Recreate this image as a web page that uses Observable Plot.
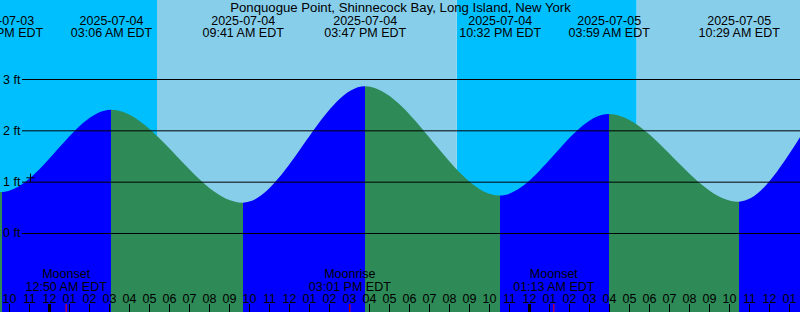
<!DOCTYPE html>
<html>
<head>
<meta charset="utf-8">
<script src="https://cdn.jsdelivr.net/npm/d3@7"></script>
<script src="https://cdn.jsdelivr.net/npm/@observablehq/plot@0.6"></script>
<style>
html, body { margin: 0; padding: 0; background: #fff; }
svg { display: block; }
</style>
</head>
<body>
<div id="chart"></div>
<script>
// ---- data (times are local EDT, stored as naive UTC) ----
const title = "Ponquogue Point, Shinnecock Bay, Long Island, New York";
const tideTimes = [
  "2025-07-03T08:55", "2025-07-03T15:05", "2025-07-03T21:38",
  "2025-07-04T03:06", "2025-07-04T09:41", "2025-07-04T15:47",
  "2025-07-04T22:32", "2025-07-05T03:59", "2025-07-05T10:29",
  "2025-07-05T16:30", "2025-07-05T23:10"
];
const tideHeights = [0.62, 2.80, 0.80, 2.40, 0.59, 2.86, 0.73, 2.32, 0.61, 3.05, 0.70];
const sunTimes = ["2025-07-04T05:24", "2025-07-04T20:23", "2025-07-05T05:23"];
const sunKinds = ["sunrise", "sunset", "sunrise"];
const moonTimes = ["2025-07-04T00:50", "2025-07-04T15:01", "2025-07-05T01:13"];
const moonKinds = ["Moonset", "Moonrise", "Moonset"];
const yTicks = [0, 1, 2, 3];
const nowTime = "2025-07-03T23:03";
const nowHeight = 1.085;
const xStart = "2025-07-03T21:33";
const xEnd = "2025-07-05T13:33";

// ---- colours ----
const NIGHT = "#00BFFF", DAY = "#87CEEB", RISING = "#0000FF", FALLING = "#2E8B57";

const P = s => new Date(s + ":00Z");
const x0 = P(xStart), x1 = P(xEnd);
const yMin = -1.539, yMax = 4.539;

const tide = tideTimes.map((t, i) => ({time: P(t), height: tideHeights[i]}));
const visibleTide = tide.filter(d => d.time >= new Date(+x0 - 3600e3) && d.time <= x1);

const bounds = [new Date(+x0 - 3600e3), ...sunTimes.map(P), new Date(+x1 + 3600e3)];
const bands = [];
for (let i = 0; i < bounds.length - 1; i++) {
  bands.push({start: bounds[i], end: bounds[i + 1], night: i === 0 ? sunKinds[0] === "sunrise" : sunKinds[i - 1] === "sunset"});
}
const moon = moonTimes.map((t, i) => ({time: P(t), kind: moonKinds[i]}));
const hours = d3.utcHour.range(d3.utcHour.ceil(x0), x1);

const fmtDate = d3.utcFormat("%Y-%m-%d");
const fmtTime = d => d3.utcFormat("%I:%M %p")(d) + " EDT";
const fmtHour = d3.utcFormat("%I");
const FS = 12.5;
const FONT = "'Liberation Sans', Arial, Helvetica, sans-serif";

const plot = Plot.plot({
  width: 800,
  height: 312,
  margin: 0,
  x: {type: "utc", domain: [x0, x1], axis: null},
  y: {domain: [yMin, yMax], axis: null},
  style: {fontFamily: FONT, fontSize: FS + "px", background: "#fff", color: "black"},
  marks: [
    Plot.rect(bands.filter(d => d.night), {x1: "start", x2: "end", fill: NIGHT}),
    Plot.rect(bands.filter(d => !d.night), {x1: "start", x2: "end", fill: DAY}),
    Plot.areaY(tide, {x: "time", y1: yMin, y2: "height", curve: "monotone-x", fill: "url(#tideGrad)"}),
    Plot.ruleY(yTicks, {y: d => d, insetLeft: 22, stroke: "black"}),
    Plot.text(yTicks, {y: d => d, text: d => `${d} ft`, frameAnchor: "left", dx: 2.5, textAnchor: "start", lineAnchor: "middle", fontSize: FS, fill: "black"}),
    Plot.dot([{time: P(nowTime), height: nowHeight}], {x: "time", y: "height", symbol: "plus", r: 2.8, stroke: "black", strokeWidth: 1}),
    Plot.text([title], {text: d => d, frameAnchor: "top", dy: 11, lineAnchor: "bottom", fontSize: 13.2, fill: "black"}),
    Plot.text(visibleTide, {x: "time", text: d => fmtDate(d.time), frameAnchor: "top", dy: 24, lineAnchor: "bottom", fontSize: FS, fill: "black"}),
    Plot.text(visibleTide, {x: "time", text: d => fmtTime(d.time), frameAnchor: "top", dy: 36, lineAnchor: "bottom", fontSize: FS, fill: "black"}),
    Plot.text(moon, {x: "time", text: "kind", frameAnchor: "bottom", dy: -35, lineAnchor: "bottom", fontSize: FS, fill: "black"}),
    Plot.text(moon, {x: "time", text: d => fmtTime(d.time), frameAnchor: "bottom", dy: -22, lineAnchor: "bottom", fontSize: FS, fill: "black"}),
    Plot.text(hours, {x: d => d, text: d => fmtHour(d), frameAnchor: "bottom", dy: -10, lineAnchor: "bottom", fontSize: FS, fill: "black"}),
    Plot.ruleX(hours, {x: d => d, insetTop: 304, stroke: "black"}),
    Plot.ruleX(hours.filter(d => d.getUTCHours() === 0), {x: d => d, insetTop: 304, stroke: "black", strokeWidth: 3}),
    Plot.ruleX(moon, {x: "time", insetTop: 304, stroke: "#FF0000"})
  ]
});

// gradient: rising segments blue, falling segments green, hard stops at each extreme
const xs = plot.scale("x");
const ns = "http://www.w3.org/2000/svg";
const defs = document.createElementNS(ns, "defs");
const grad = document.createElementNS(ns, "linearGradient");
grad.setAttribute("id", "tideGrad");
grad.setAttribute("gradientUnits", "userSpaceOnUse");
const gx1 = xs.apply(tide[0].time), gx2 = xs.apply(tide[tide.length - 1].time);
grad.setAttribute("x1", gx1); grad.setAttribute("x2", gx2);
grad.setAttribute("y1", 0); grad.setAttribute("y2", 0);
for (let i = 0; i < tide.length - 1; i++) {
  const a = tide[i], b = tide[i + 1];
  const col = b.height > a.height ? RISING : FALLING;
  for (const d of [a, b]) {
    const s = document.createElementNS(ns, "stop");
    s.setAttribute("offset", (xs.apply(d.time) - gx1) / (gx2 - gx1));
    s.setAttribute("stop-color", col);
    grad.appendChild(s);
  }
}
defs.appendChild(grad);
plot.insertBefore(defs, plot.firstChild);

document.getElementById("chart").appendChild(plot);
</script>
</body>
</html>
